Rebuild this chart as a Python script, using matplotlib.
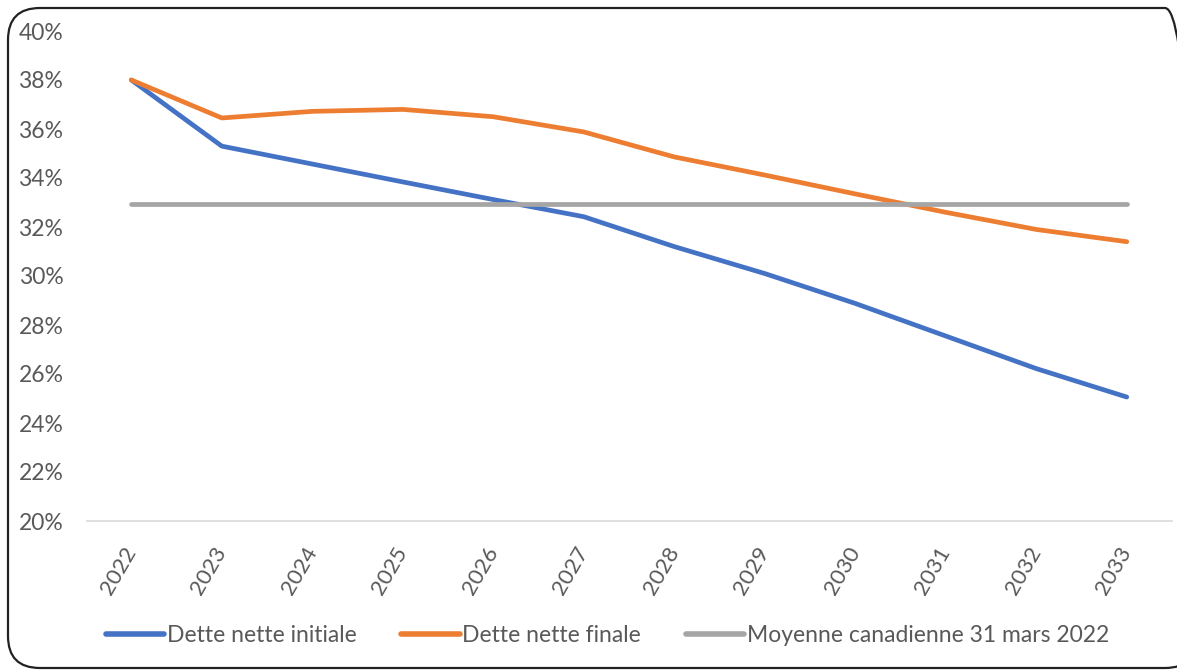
import matplotlib
matplotlib.use("Agg")
import matplotlib.pyplot as plt
from matplotlib.patches import FancyBboxPatch
from matplotlib.transforms import IdentityTransform
from matplotlib.ticker import FuncFormatter

years = [2022, 2023, 2024, 2025, 2026, 2027, 2028, 2029, 2030, 2031, 2032, 2033]
initiale = [38.0, 35.3, 34.57, 33.84, 33.12, 32.42, 31.2, 30.1, 28.88, 27.55, 26.22, 25.06]
finale = [38.0, 36.45, 36.72, 36.8, 36.5, 35.88, 34.86, 34.12, 33.35, 32.6, 31.9, 31.4]
moyenne = [32.95] * len(years)
labels = ["Dette nette initiale", "Dette nette finale", "Moyenne canadienne 31 mars 2022"]
colors = ["#4472C4", "#ED7D31", "#A5A5A5"]

plt.rcParams['font.family'] = ['Lato', 'DejaVu Sans']
W, H = 1177, 671
fig = plt.figure(figsize=(W/100, H/100), dpi=100)

# rounded frame in pixel coordinates (origin bottom-left)
frame = FancyBboxPatch((8, H - 668), 1197 - 8, 668 - 8,
                       boxstyle="round,pad=0,rounding_size=32",
                       transform=IdentityTransform(), fill=False,
                       edgecolor="#222222", linewidth=1.6, clip_on=False)
fig.patches.append(frame)

ax = fig.add_axes([87/W, 1 - 521/H, (1172-87)/W, (521-31)/H])
x = list(range(len(years)))
ax.plot(x, initiale, color=colors[0], lw=3.4, solid_capstyle='round', label=labels[0])
ax.plot(x, finale, color=colors[1], lw=3.4, solid_capstyle='round', label=labels[1])
ax.plot(x, moyenne, color=colors[2], lw=3.4, solid_capstyle='round', label=labels[2])

ax.set_ylim(20, 40)
ax.set_yticks(range(20, 41, 2))
ax.yaxis.set_major_formatter(FuncFormatter(lambda v, p: f"{v:.0f}%"))
ax.set_xlim(-0.49, len(years) - 0.5)
ax.set_xticks(x)
ax.set_xticklabels([str(y) for y in years], rotation=60, ha='right', va='center',
                   rotation_mode='anchor')
for s in ['top', 'right', 'left']:
    ax.spines[s].set_visible(False)
ax.spines['bottom'].set_color('#D9D9D9')
ax.spines['bottom'].set_linewidth(1.2)
ax.tick_params(axis='both', length=0, labelsize=16.5, labelcolor='#595959')
ax.tick_params(axis='y', pad=17)
ax.tick_params(axis='x', pad=20)
for t in ax.get_xticklabels():
    t.set_fontsize(16)

leg = fig.legend(loc='center left', bbox_to_anchor=(85/W, 1 - 636/H), ncol=3,
                 frameon=False, fontsize=16.5, handlelength=2.55, handletextpad=0.12,
                 columnspacing=1.95, labelcolor='#595959')
for h in leg.get_lines():
    h.set_linewidth(4)
fig.savefig("out.png", dpi=100)
